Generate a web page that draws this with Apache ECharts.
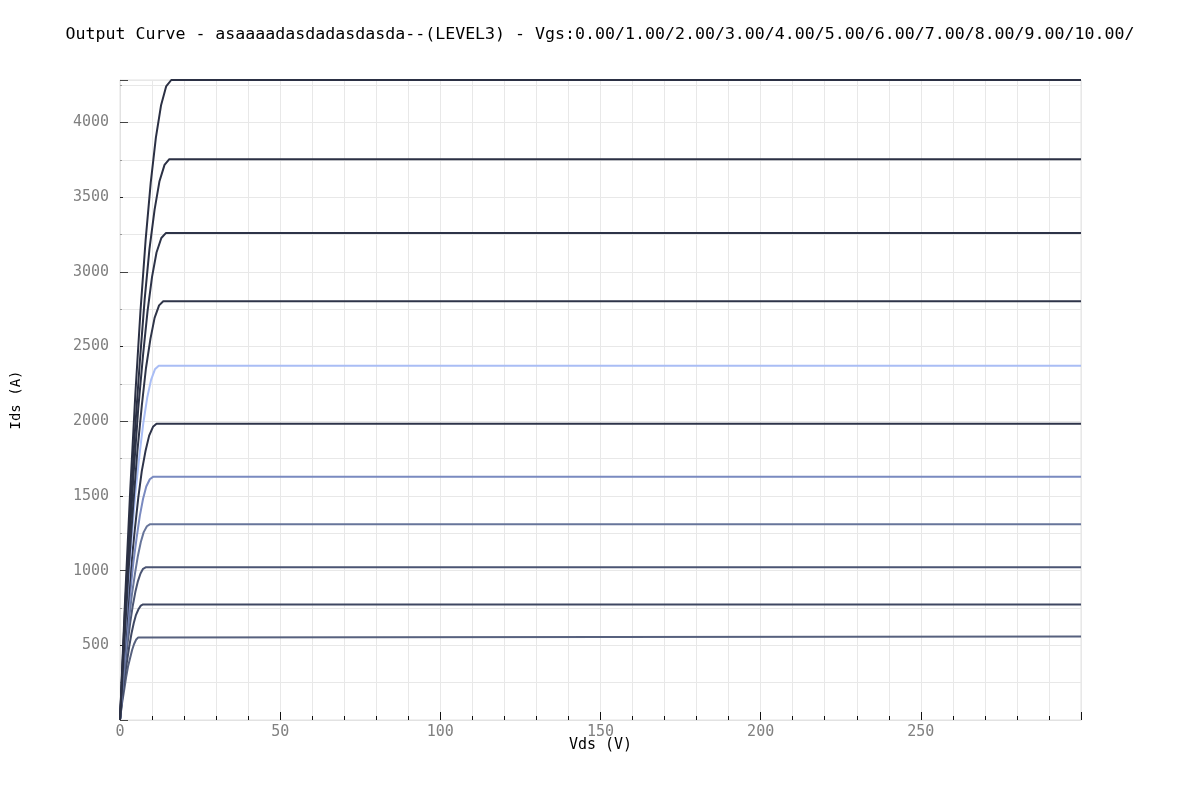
<!DOCTYPE html>
<html>
<head>
<meta charset="utf-8">
<script src="https://cdn.jsdelivr.net/npm/echarts@6/dist/echarts.min.js"></script>
<style>
  html, body { margin: 0; padding: 0; background: #fff; }
  #chart { width: 1200px; height: 800px; }
</style>
</head>
<body>
<div id="chart"></div>
<script>
const titleText = 'Output Curve - asaaaadasdadasdasda--(LEVEL3) - Vgs:0.00/1.00/2.00/3.00/4.00/5.00/6.00/7.00/8.00/9.00/10.00/';
const vgsNames = ['0.00', '1.00', '2.00', '3.00', '4.00', '5.00', '6.00', '7.00', '8.00', '9.00', '10.00'];

// Vds / Ids points (lowest curve first)
const vds0 = [0, 0.6, 1.3, 1.9, 2.5, 3.2, 3.8, 4.4, 5.0, 5.7, 6.3, 300];
const ids0 = [0, 106, 201, 285, 358, 419, 470, 509, 537, 553, 559, 559];
const vds1 = [0, 0.7, 1.4, 2.2, 2.9, 3.6, 4.3, 5.0, 5.8, 6.5, 7.2, 300];
const ids1 = [0, 147, 279, 395, 495, 581, 650, 704, 743, 766, 774, 774];
const vds2 = [0, 0.8, 1.6, 2.4, 3.2, 4.0, 4.8, 5.6, 6.4, 7.2, 8.0, 300];
const ids2 = [0, 194, 368, 521, 654, 767, 858, 930, 981, 1012, 1022, 1022];
const vds3 = [0, 0.9, 1.9, 2.8, 3.7, 4.7, 5.6, 6.5, 7.4, 8.4, 9.3, 300];
const ids3 = [0, 249, 472, 668, 838, 983, 1100, 1192, 1258, 1297, 1310, 1310];
const vds4 = [0, 1.0, 2.1, 3.1, 4.1, 5.2, 6.2, 7.2, 8.2, 9.3, 10.3, 300];
const ids4 = [0, 309, 586, 830, 1042, 1221, 1368, 1481, 1563, 1612, 1628, 1628];
const vds5 = [0, 1.1, 2.3, 3.4, 4.6, 5.7, 6.8, 8.0, 9.1, 10.3, 11.4, 300];
const ids5 = [0, 377, 714, 1011, 1269, 1487, 1666, 1805, 1904, 1963, 1983, 1983];
const vds6 = [0, 1.2, 2.4, 3.6, 4.8, 6.1, 7.3, 8.5, 9.7, 10.9, 12.1, 300];
const ids6 = [0, 451, 854, 1210, 1518, 1779, 1992, 2159, 2277, 2348, 2372, 2372];
const vds7 = [0, 1.4, 2.7, 4.1, 5.4, 6.8, 8.1, 9.5, 10.8, 12.2, 13.5, 300];
const ids7 = [0, 533, 1009, 1430, 1795, 2103, 2355, 2552, 2692, 2776, 2804, 2804];
const vds8 = [0, 1.4, 2.9, 4.3, 5.7, 7.2, 8.6, 10.0, 11.4, 12.9, 14.3, 300];
const ids8 = [0, 619, 1174, 1663, 2086, 2445, 2738, 2967, 3130, 3227, 3260, 3260];
const vds9 = [0, 1.5, 3.1, 4.6, 6.2, 7.7, 9.2, 10.8, 12.3, 13.9, 15.4, 300];
const ids9 = [0, 713, 1352, 1915, 2403, 2816, 3154, 3417, 3605, 3717, 3755, 3755];
const vds10 = [0, 1.6, 3.2, 4.8, 6.4, 8.0, 9.6, 11.2, 12.8, 14.4, 16.0, 300];
const ids10 = [0, 814, 1543, 2185, 2742, 3214, 3599, 3899, 4114, 4242, 4285, 4285];

const allVds = [vds0, vds1, vds2, vds3, vds4, vds5, vds6, vds7, vds8, vds9, vds10];
const allIds = [ids0, ids1, ids2, ids3, ids4, ids5, ids6, ids7, ids8, ids9, ids10];
const lineColors = ['#57617e', '#3e4762', '#4b5573', '#67759a', '#7a8ac0', '#2e344a',
                    '#a9bdf5', '#2f3549', '#2d3348', '#2b3044', '#2b3044'];

const xMax = 300;
const yMax = 4285;
const font = 'DejaVu Sans Mono';

const chart = echarts.init(document.getElementById('chart'));

const series = allVds.map(function (vds, i) {
    return {
        name: 'Vgs=' + vgsNames[i],
        type: 'line',
        xAxisIndex: 0,
        yAxisIndex: 0,
        showSymbol: false,
        symbol: 'none',
        lineStyle: { color: lineColors[i], width: 2 },
        data: vds.map(function (v, k) { return [v, allIds[i][k]]; })
    };
});

const option = {
    animation: false,
    title: {
        text: titleText,
        left: 'center',
        top: 21,
        textStyle: { fontFamily: font, fontSize: 16.6, fontWeight: 'normal', color: '#000' }
    },
    grid: {
        left: 120, right: 119, top: 80, bottom: 80,
        outerBoundsMode: 'none',
        containLabel: false,
        show: true, borderColor: '#e2e2e2', borderWidth: 1
    },
    xAxis: [
        {
            type: 'value', min: 0, max: xMax, interval: 10,
            name: 'Vds (V)', nameLocation: 'middle', nameGap: 18,
            nameMoveOverlap: false,
            nameTextStyle: { fontFamily: font, fontSize: 15, color: '#000' },
            axisLine: { show: true, lineStyle: { color: '#e2e2e2' } },
            axisTick: { show: true, inside: true, length: 4, lineStyle: { color: '#111' } },
            axisLabel: {
                fontFamily: font, fontSize: 15, color: '#808080', margin: 5,
                formatter: function (v) { return (v % 50 === 0 && v < xMax) ? String(v) : ''; }
            },
            splitLine: { show: true, lineStyle: { color: '#e8e8e8' } }
        },
        {
            type: 'value', min: 0, max: xMax, interval: 50, position: 'bottom',
            axisLine: { show: false },
            axisTick: { show: true, inside: true, length: 8, lineStyle: { color: '#111' } },
            axisLabel: { show: false },
            splitLine: { show: false }
        }
    ],
    yAxis: [
        {
            type: 'value', min: 0, max: yMax, interval: 250,
            name: 'Ids (A)', nameLocation: 'middle', nameGap: 97,
            nameTextStyle: { fontFamily: font, fontSize: 14, color: '#000' },
            axisLine: { show: true, lineStyle: { color: '#e2e2e2' } },
            axisTick: { show: true, inside: true, length: 2, lineStyle: { color: '#999' } },
            axisLabel: {
                fontFamily: font, fontSize: 15, color: '#808080', margin: 11,
                formatter: function (v) { return (v > 0 && v % 500 === 0) ? String(v) : ''; }
            },
            splitLine: { show: true, lineStyle: { color: '#e8e8e8' } }
        },
        {
            type: 'value', min: 0, max: yMax, interval: 500, position: 'left',
            axisLine: { show: false },
            axisTick: { show: true, inside: true, length: 3, lineStyle: { color: '#222' } },
            axisLabel: { show: false },
            splitLine: { show: false }
        },
        {
            type: 'value', min: 0, max: yMax, interval: 1000, position: 'left',
            axisLine: { show: false },
            axisTick: { show: true, inside: true, length: 8, lineStyle: { color: '#444' } },
            axisLabel: { show: false },
            splitLine: { show: false }
        }
    ],
    series: series
};

chart.setOption(option);
</script>
</body>
</html>
